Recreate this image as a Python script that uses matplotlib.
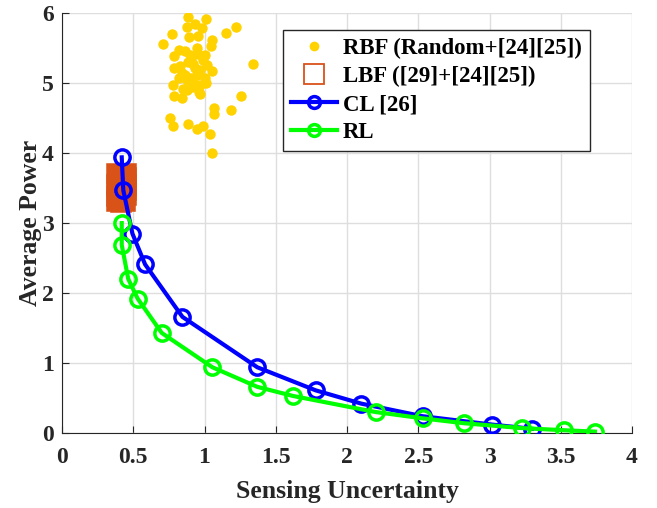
import matplotlib
matplotlib.use("Agg")
import matplotlib.pyplot as plt
from matplotlib.lines import Line2D
import numpy as np

# RBF (Random+[24][25]) scatter
rbf_x = [0.887, 1.011, 0.933, 0.875, 0.980, 0.770, 0.891, 0.957, 1.149, 1.221,
         0.706, 1.050, 1.043, 0.823, 0.863, 0.945, 0.788, 0.957, 0.903, 0.887,
         0.992, 1.015, 1.338, 0.784, 0.933, 0.968, 1.050, 0.821, 0.905, 1.004,
         0.922, 0.781, 0.852, 0.910, 1.008, 0.875, 0.786, 0.840, 0.968, 1.256,
         1.069, 1.069, 1.184, 0.758, 0.781, 0.887, 0.945, 0.992, 1.041, 1.055,
         0.860, 0.950, 0.900, 0.830, 0.970, 0.880, 0.920, 0.840, 1.000, 0.960]
rbf_y = [5.95, 5.92, 5.85, 5.80, 5.79, 5.70, 5.66, 5.68, 5.72, 5.81,
         5.56, 5.62, 5.53, 5.47, 5.46, 5.50, 5.39, 5.42, 5.35, 5.30,
         5.33, 5.26, 5.28, 5.22, 5.21, 5.19, 5.17, 5.08, 5.07, 5.07,
         5.02, 4.97, 4.92, 4.94, 5.00, 4.90, 4.82, 4.79, 4.85, 4.82,
         4.64, 4.56, 4.61, 4.50, 4.39, 4.41, 4.34, 4.39, 4.28, 4.00,
         5.12, 5.12, 5.40, 5.25, 4.97, 5.05, 5.28, 5.15, 5.40, 4.87]

# LBF ([29]+[24][25]) points
lbf_x = [0.386, 0.418, 0.449, 0.390, 0.420, 0.446, 0.388, 0.416, 0.448,
         0.392, 0.421, 0.447, 0.387, 0.419, 0.449, 0.389, 0.417, 0.445]
lbf_y = [3.70, 3.69, 3.70, 3.63, 3.62, 3.64, 3.55, 3.56, 3.54,
         3.47, 3.46, 3.48, 3.39, 3.38, 3.40, 3.31, 3.30, 3.31]

# CL [26]
cl_x = [0.419, 0.430, 0.494, 0.583, 0.845, 1.370, 1.780, 2.100, 2.530, 3.020, 3.300]
cl_y = [3.94, 3.47, 2.85, 2.41, 1.66, 0.94, 0.61, 0.42, 0.24, 0.12, 0.06]

# RL
rl_x = [0.419, 0.419, 0.465, 0.531, 0.700, 1.055, 1.370, 1.620, 2.200, 2.530,
        2.820, 3.230, 3.520, 3.740]
rl_y = [3.00, 2.69, 2.20, 1.92, 1.43, 0.94, 0.66, 0.53, 0.30, 0.21,
        0.14, 0.07, 0.04, 0.02]

plt.rcParams['font.family'] = ['Liberation Serif', 'DejaVu Serif']
plt.rcParams['font.weight'] = 'bold'

gold = '#FFD200'
orange = '#D95319'
dark = '#262626'

fig = plt.figure(figsize=(6.57, 5.08), dpi=100)
ax = fig.add_axes([0.0944, 0.1476, 0.8676, 0.8264])

ax.plot(rbf_x, rbf_y, 'o', color=gold, markersize=7.5, markeredgewidth=0, zorder=3)
ax.plot(lbf_x, lbf_y, 's', markerfacecolor='none', markeredgecolor=orange,
        markersize=12, markeredgewidth=4, zorder=3)
ax.plot(cl_x, cl_y, '-o', color='#0000FF', linewidth=3, markersize=11,
        markerfacecolor='none', markeredgewidth=2.5, zorder=4)
ax.plot(rl_x, rl_y, '-o', color='#00FF00', linewidth=3, markersize=11,
        markerfacecolor='none', markeredgewidth=2.5, zorder=5)

ax.set_xlim(0, 4)
ax.set_ylim(0, 6)
ax.set_xticks(np.arange(0, 4.01, 0.5))
ax.set_xticklabels(['0', '0.5', '1', '1.5', '2', '2.5', '3', '3.5', '4'])
ax.set_yticks(np.arange(0, 7, 1))
ax.grid(True, color='#DEDEDE', linewidth=1)
ax.set_axisbelow(True)
ax.spines['top'].set_visible(False)
ax.spines['right'].set_visible(False)
for s in ['left', 'bottom']:
    ax.spines[s].set_color(dark)
ax.tick_params(direction='in', length=5, color=dark, labelsize=17,
               labelcolor=dark)
ax.tick_params(axis='x', pad=10)
ax.tick_params(axis='y', pad=6)
ax.set_xlabel('Sensing Uncertainty', fontsize=18.5, fontweight='bold', color=dark, labelpad=9)
ax.set_ylabel('Average Power', fontsize=18.5, fontweight='bold', color=dark, labelpad=0)

handles = [
    Line2D([], [], linestyle='none', marker='o', color=gold, markersize=7, markeredgewidth=0),
    Line2D([], [], linestyle='none', marker='s', markerfacecolor='none',
           markeredgecolor=orange, markersize=14, markeredgewidth=1.3),
    Line2D([], [], color='#0000FF', linewidth=3, marker='o', markersize=8.5,
           markerfacecolor='none', markeredgewidth=2.5),
    Line2D([], [], color='#00FF00', linewidth=3, marker='o', markersize=8.5,
           markerfacecolor='none', markeredgewidth=2.5),
]
labels = ['RBF (Random+[24][25])', 'LBF ([29]+[24][25])', 'CL [26]', 'RL']
leg = ax.legend(handles, labels, loc='upper left', bbox_to_anchor=(0.388, 0.96),
                fontsize=16.5, frameon=True, fancybox=False, framealpha=1,
                edgecolor=dark, handlelength=2.0, handletextpad=0.25,
                borderpad=0.35, labelspacing=0.3, borderaxespad=0)
leg.get_frame().set_linewidth(1.0)
for t in leg.get_texts():
    t.set_fontweight('bold')

fig.savefig('out.png', dpi=100)
